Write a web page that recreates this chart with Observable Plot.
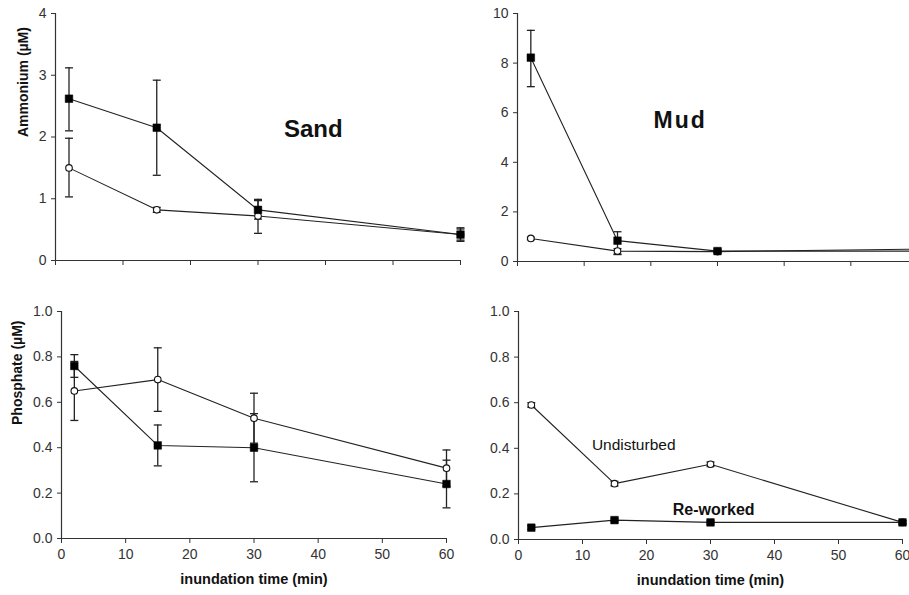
<!DOCTYPE html>
<html>
<head>
<meta charset="utf-8">
<script src="https://cdn.jsdelivr.net/npm/d3@7"></script>
<script src="https://cdn.jsdelivr.net/npm/@observablehq/plot@0.6"></script>
<style>
  html, body { margin: 0; padding: 0; background: #fff; }
  #wrap { position: relative; width: 909px; height: 595px; overflow: hidden; background: #fff; }
  #wrap svg { position: absolute; background: transparent; }
</style>
</head>
<body>
<div id="wrap"></div>
<script>
// ---- data ----
const times = [2, 15, 30, 60];
const xTicks = [0, 10, 20, 30, 40, 50, 60];

// Ammonium, Sand
const sandNH4Rew   = [2.62, 2.15, 0.82, 0.42];
const sandNH4RewLo = [2.10, 1.38, 0.67, 0.31];
const sandNH4RewHi = [3.12, 2.92, 0.97, 0.53];
const sandNH4Und   = [1.50, 0.82, 0.72, 0.42];
const sandNH4UndLo = [1.03, 0.78, 0.44, 0.33];
const sandNH4UndHi = [1.98, 0.86, 0.99, 0.51];

// Ammonium, Mud
const mudNH4Rew   = [8.22, 0.84, 0.42, 0.42];
const mudNH4RewLo = [7.05, 0.28, 0.35, 0.36];
const mudNH4RewHi = [9.32, 1.20, 0.50, 0.48];
const mudNH4Und   = [0.93, 0.42, 0.40, 0.50];
const mudNH4UndLo = [0.88, 0.30, 0.35, 0.44];
const mudNH4UndHi = [0.98, 0.52, 0.45, 0.56];

// Phosphate, Sand
const sandPO4Rew   = [0.76, 0.41, 0.40, 0.24];
const sandPO4RewLo = [0.71, 0.32, 0.25, 0.135];
const sandPO4RewHi = [0.81, 0.50, 0.55, 0.345];
const sandPO4Und   = [0.65, 0.70, 0.53, 0.31];
const sandPO4UndLo = [0.52, 0.56, 0.42, 0.23];
const sandPO4UndHi = [0.78, 0.84, 0.64, 0.39];

// Phosphate, Mud
const mudPO4Rew   = [0.052, 0.085, 0.075, 0.075];
const mudPO4RewLo = [0.045, 0.078, 0.068, 0.068];
const mudPO4RewHi = [0.060, 0.092, 0.082, 0.082];
const mudPO4Und   = [0.59, 0.245, 0.33, 0.075];
const mudPO4UndLo = [0.58, 0.235, 0.32, 0.068];
const mudPO4UndHi = [0.60, 0.255, 0.34, 0.082];

const nh4SandTicks = [0, 1, 2, 3, 4];
const nh4MudTicks = [0, 2, 4, 6, 8, 10];
const po4Ticks = [0, 0.2, 0.4, 0.6, 0.8, 1.0];

// annotations (label text and data-space anchor)
const sandTitle = {text: "Sand", x: 38.2, y: 2.12};
const mudTitle = {text: "Mud", x: 24.4, y: 5.7};
const undLabel = {text: "Undisturbed", x: 18, y: 0.415};
const rewLabel = {text: "Re-worked", x: 30.5, y: 0.13};

// ---- helpers ----
const FONT = "'Liberation Sans', Arial, sans-serif";
const capSymbol = {
  draw(ctx, size) { const w = Math.sqrt(size) / 2; ctx.moveTo(-w, 0); ctx.lineTo(w, 0); }
};
function rows(vals, lo, hi) {
  return times.map((t, i) => ({t, v: vals[i], lo: lo[i], hi: hi[i]}));
}

function panel(cfg) {
  const rew = rows(cfg.rew, cfg.rewLo, cfg.rewHi);
  const und = rows(cfg.und, cfg.undLo, cfg.undHi);
  const marks = [
    Plot.ruleY([cfg.ydom[0]], {stroke: "#333", strokeWidth: 1.2}),
    Plot.ruleX([0], {stroke: "#333", strokeWidth: 1.2}),
    Plot.axisX({ticks: xTicks, tickSize: 5, tickPadding: 6, tickFormat: cfg.xLabels ? (d => d) : (() => ""), label: null, fontSize: 14}),
    Plot.axisY({ticks: cfg.yTicks, tickSize: 4, tickPadding: 5, tickFormat: cfg.yFmt, label: null, fontSize: 14}),
    Plot.line(und, {x: "t", y: "v", stroke: "#222", strokeWidth: 1.1}),
    Plot.line(rew, {x: "t", y: "v", stroke: "#222", strokeWidth: 1.1}),
    ...(cfg.err ? [
      Plot.ruleX(und, {x: "t", y1: "lo", y2: "hi", stroke: "#222", strokeWidth: 1.3}),
      Plot.ruleX(rew, {x: "t", y1: "lo", y2: "hi", stroke: "#222", strokeWidth: 1.3}),
      Plot.dot(und, {x: "t", y: "lo", symbol: capSymbol, r: 4.5, stroke: "#222", strokeWidth: 1.3}),
      Plot.dot(und, {x: "t", y: "hi", symbol: capSymbol, r: 4.5, stroke: "#222", strokeWidth: 1.3}),
      Plot.dot(rew, {x: "t", y: "lo", symbol: capSymbol, r: 4.5, stroke: "#222", strokeWidth: 1.3}),
      Plot.dot(rew, {x: "t", y: "hi", symbol: capSymbol, r: 4.5, stroke: "#222", strokeWidth: 1.3})
    ] : []),
    Plot.dot(und, {x: "t", y: "v", r: 3.3, fill: "white", stroke: "#111", strokeWidth: 1.1}),
    Plot.dot(rew, {x: "t", y: "v", r: 4.3, symbol: "square", fill: "#000", stroke: "#000", strokeWidth: 0.5})
  ];
  if (cfg.ylabel) marks.push(Plot.text([cfg.ylabel], {frameAnchor: "left", rotate: -90, dx: cfg.ylabelDx, fontWeight: "bold", fontSize: 14, fill: "#111"}));
  if (cfg.xLabels) marks.push(Plot.text(["inundation time (min)"], {frameAnchor: "bottom", dy: 45, fontWeight: "bold", fontSize: 14.5, fill: "#111"}));
  for (const a of (cfg.notes || [])) {
    marks.push(Plot.text([a], {x: "x", y: "y", text: "text", fontWeight: a.bold ? "bold" : "normal", fontSize: a.size, fill: "#111"}));
  }
  const svg = Plot.plot({
    width: cfg.w, height: cfg.h,
    marginLeft: cfg.ml, marginRight: cfg.mr, marginTop: cfg.mt, marginBottom: cfg.mb,
    x: {domain: [0, 60]},
    y: {domain: cfg.ydom},
    style: {fontFamily: FONT, fontSize: "14px", color: "#333", background: "transparent", overflow: "visible"},
    marks
  });
  svg.style.left = cfg.left + "px";
  svg.style.top = cfg.top + "px";
  svg.style.maxWidth = "none";
  document.getElementById("wrap").appendChild(svg);
  return svg;
}

panel({left: 0, top: 0, w: 470, h: 290, ml: 55, mr: 10, mt: 13, mb: 30,
  ydom: [0, 4], yTicks: nh4SandTicks, yFmt: d => d, xLabels: false,
  ylabel: "Ammonium (µM)", ylabelDx: -32, err: true,
  rew: sandNH4Rew, rewLo: sandNH4RewLo, rewHi: sandNH4RewHi,
  und: sandNH4Und, undLo: sandNH4UndLo, undHi: sandNH4UndHi,
  notes: [{...sandTitle, bold: true, size: 24}]});

const mudSvg = panel({left: 460, top: 0, w: 467, h: 290, ml: 57, mr: 10, mt: 13, mb: 29,
  ydom: [0, 10], yTicks: nh4MudTicks, yFmt: d => d, xLabels: false, err: true,
  rew: mudNH4Rew, rewLo: mudNH4RewLo, rewHi: mudNH4RewHi,
  und: mudNH4Und, undLo: mudNH4UndLo, undHi: mudNH4UndHi,
  notes: [{...mudTitle, bold: true, size: 23}]});

panel({left: 0, top: 290, w: 460, h: 305, ml: 61, mr: 14, mt: 21, mb: 57,
  ydom: [0, 1], yTicks: po4Ticks, yFmt: d3.format(".1f"), xLabels: true,
  ylabel: "Phosphate (µM)", ylabelDx: -44, err: true,
  rew: sandPO4Rew, rewLo: sandPO4RewLo, rewHi: sandPO4RewHi,
  und: sandPO4Und, undLo: sandPO4UndLo, undHi: sandPO4UndHi});

panel({left: 460, top: 290, w: 449, h: 305, ml: 58, mr: 7, mt: 21, mb: 56,
  ydom: [0, 1], yTicks: po4Ticks, yFmt: d3.format(".1f"), xLabels: true, err: true,
  rew: mudPO4Rew, rewLo: mudPO4RewLo, rewHi: mudPO4RewHi,
  und: mudPO4Und, undLo: mudPO4UndLo, undHi: mudPO4UndHi,
  notes: [{...undLabel, bold: false, size: 15.5}, {...rewLabel, bold: true, size: 16}]});

// letter spacing for the "Mud" title
d3.select(mudSvg).selectAll("text").filter(function() { return this.textContent === "Mud"; })
  .attr("letter-spacing", "2px");
</script>
</body>
</html>
